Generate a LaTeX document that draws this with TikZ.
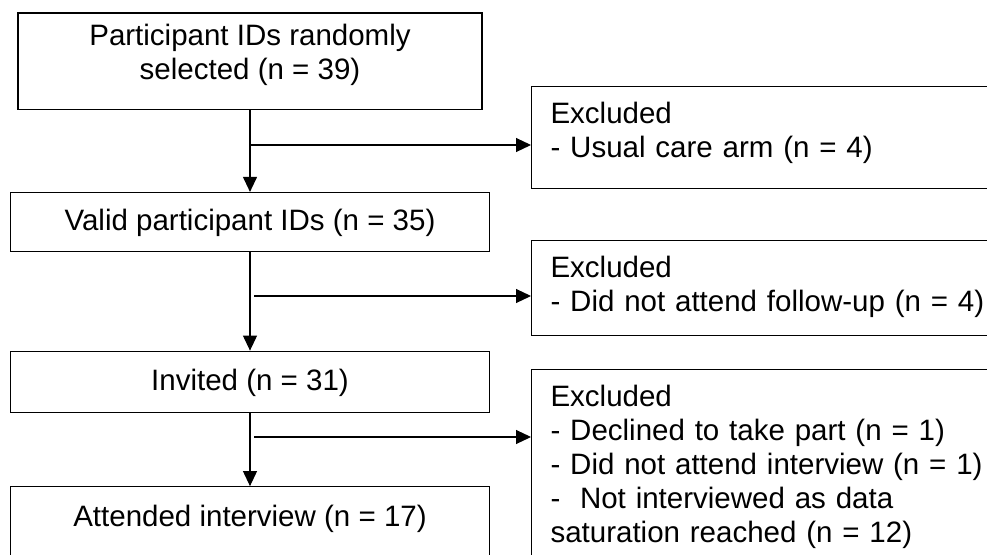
\documentclass[tikz,border=0pt]{standalone}
\usepackage{fontspec}
\setmainfont{Liberation Sans}
\usetikzlibrary{arrows.meta,positioning}

\begin{document}
\begin{tikzpicture}[
    x=1pt, y=-1pt,
    font=\fontsize{29.5}{34}\selectfont,
    stage/.style={draw, line width=1.1pt, inner sep=0pt, minimum width=479pt, align=center},
    excl/.style={draw, line width=1.1pt, anchor=north west, inner xsep=19pt, inner ysep=0pt, text width=480pt, align=left},
    line/.style={-{Triangle[length=15pt, width=14pt]}, line width=1.1pt}
  ]
    \useasboundingbox (0,0) rectangle (987,554);
    \clip (0,0) rectangle (987,554);

    \node[stage, anchor=north, minimum width=464pt] (sel) at (250,12.4)
      {\rule{0pt}{32.6pt}Participant IDs randomly\\selected (n = 39)\rule[-30pt]{0pt}{30pt}};
    \node[stage, below=81.8pt of sel, text height=38pt, text depth=21pt] (valid) {Valid participant IDs (n = 35)};
    \node[stage, below=98.6pt of valid, text height=39pt, text depth=22pt] (invited) {Invited (n = 31)};
    \node[stage, below=73.4pt of invited, text height=40pt, text depth=29.5pt] (attended) {Attended interview (n = 17)};

    \node[excl] (exclA) at (531,86)
      {\rule{0pt}{37pt}Excluded\\- Usual care arm (n = 4)\rule[-31pt]{0pt}{31pt}};
    \node[excl] (exclB) at (531,240)
      {\rule{0pt}{37pt}Excluded\\- Did not attend follow-up (n = 4)\rule[-24pt]{0pt}{24pt}};
    \node[excl] (exclC) at (531,369)
      {\rule{0pt}{37pt}Excluded\\- Declined to take part (n = 1)\\- Did not attend interview (n = 1)\\-~~Not interviewed as data\\saturation reached (n = 12)\rule[-30pt]{0pt}{30pt}};

    \coordinate (j1) at (250,145);
    \coordinate (j2) at (254,296);
    \coordinate (j3) at (254,437);

    \draw[line] (sel) -- (valid);
    \draw[line] (valid) -- (invited);
    \draw[line] (invited) -- (attended);
    \draw[line] (j1) -- (j1 -| exclA.west);
    \draw[line] (j2) -- (j2 -| exclB.west);
    \draw[line] (j3) -- (j3 -| exclC.west);
  \end{tikzpicture}
\end{document}
